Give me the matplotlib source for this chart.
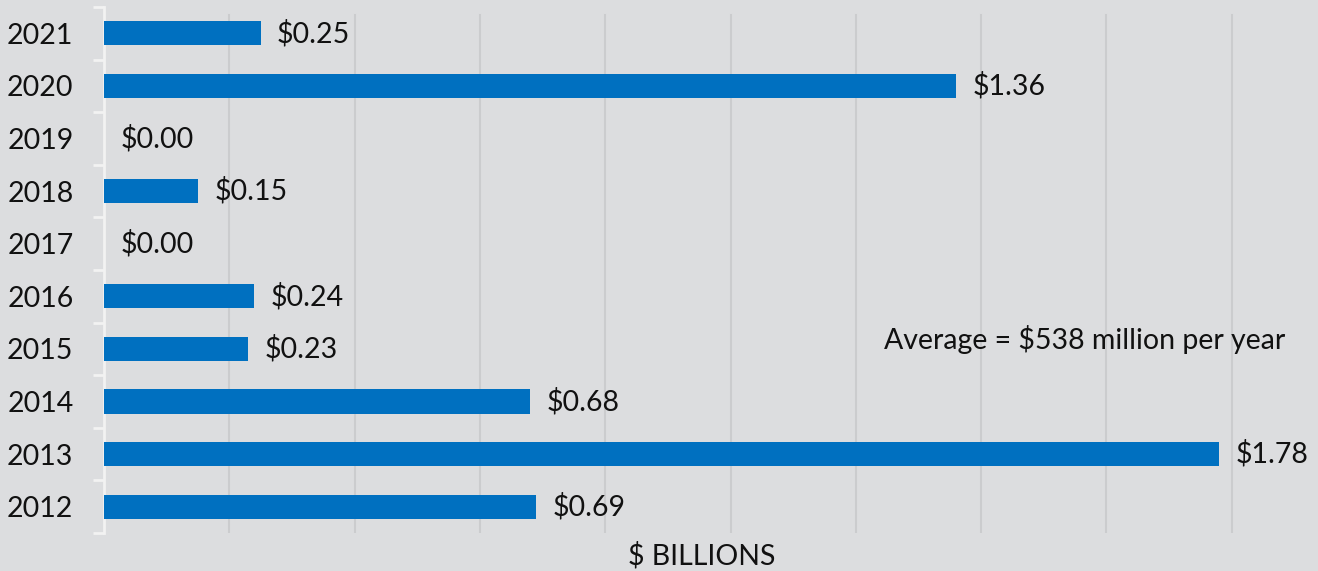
import matplotlib
matplotlib.use("Agg")
import matplotlib.pyplot as plt
import numpy as np

years = ["2012", "2013", "2014", "2015", "2016", "2017", "2018", "2019", "2020", "2021"]
values = [0.69, 1.78, 0.68, 0.23, 0.24, 0.00, 0.15, 0.00, 1.36, 0.25]
value_labels = ["$0.69", "$1.78", "$0.68", "$0.23", "$0.24", "$0.00", "$0.15", "$0.00", "$1.36", "$0.25"]
x_title = "$ BILLIONS"
note = "Average = $538 million per year"

plt.rcParams['font.family'] = ['Lato', 'DejaVu Sans']

W, H = 1318, 571
bg = "#dcdddf"
fs = 20.5
fig = plt.figure(figsize=(W / 100, H / 100), dpi=100, facecolor=bg)
ax = fig.add_axes([104 / W, 38 / H, (1300 - 104) / W, (533 - 7) / H])
ax.set_facecolor(bg)

y = np.arange(len(years))
ax.barh(y, values, height=0.46, color="#0070c0", linewidth=0, zorder=3)

ax.set_xlim(0, (1300 - 104) / 626.5)
ax.set_ylim(-0.5, len(years) - 0.5)

for v, yy, lab in zip(values, y, value_labels):
    ax.text(v + 0.026, yy, lab, va="center", ha="left", fontsize=fs, color="#111111", zorder=4, clip_on=False)

for gx in np.arange(0.2, 1.81, 0.2):
    ax.axvline(gx, ymax=0.985, color="#cbccce", linewidth=1.5, zorder=1)

ax.set_xticks([])
ax.set_yticks(y)
ax.set_yticklabels(years, fontsize=fs, color="#111111")
ax.tick_params(axis="y", which="major", length=0, pad=22)
ax.set_yticks(np.arange(-0.5, len(years), 1.0), minor=True)
ax.tick_params(axis="y", which="minor", length=8, color="#f2f2f2", width=2)

for s in ["top", "right", "bottom"]:
    ax.spines[s].set_visible(False)
ax.spines["left"].set_color("#f2f2f2")
ax.spines["left"].set_linewidth(2)

ax.text(1.565, 3.17, note, ha="center", va="center", fontsize=fs, color="#111111")

fig.text(702 / W, 1 - 556 / H, x_title, ha="center", va="center", fontsize=fs, color="#111111")

fig.savefig("out.png", dpi=100, facecolor=bg)
